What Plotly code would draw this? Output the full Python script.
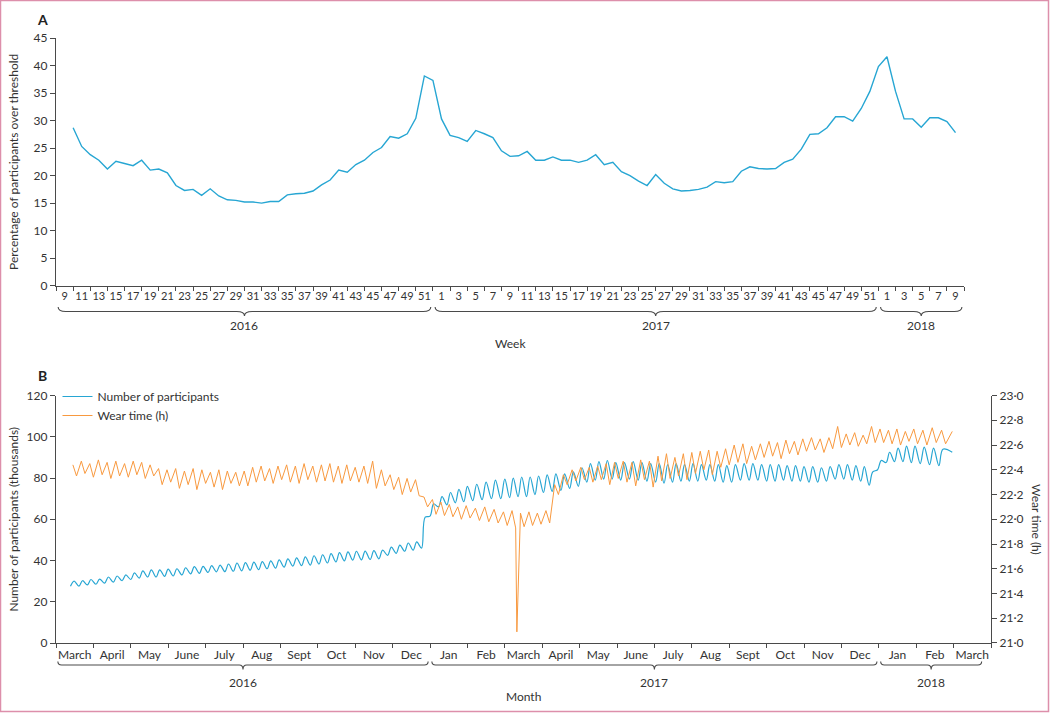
import calendar
import datetime as dt
import plotly.graph_objects as go

FONT = "Lato"
BLUE = "#27a6d3"
ORANGE = "#f8993f"
AXIS = "#4a4a4a"
TEXT = "#333333"
BORDER = "#dd8fab"

# ---------------- Panel A data (weekly % over threshold) ----------------
weeks_2016 = list(range(10, 53))
pct_2016 = [28.7, 25.3, 23.8, 22.8, 21.2, 22.6, 22.2, 21.8, 22.8, 21.0,
            21.2, 20.5, 18.2, 17.3, 17.5, 16.4, 17.6, 16.3, 15.6, 15.5,
            15.2, 15.2, 15.0, 15.3, 15.3, 16.5, 16.7, 16.8, 17.2, 18.3,
            19.2, 21.0, 20.6, 22.0, 22.8, 24.2, 25.1, 27.1, 26.8, 27.6,
            30.4, 38.1, 37.3]
weeks_2017 = list(range(1, 53))
pct_2017 = [30.3, 27.3, 26.9, 26.2, 28.2, 27.6, 26.9, 24.5, 23.5, 23.6,
            24.4, 22.8, 22.8, 23.4, 22.8, 22.8, 22.4, 22.8, 23.8, 22.0,
            22.4, 20.7, 20.0, 19.0, 18.2, 20.2, 18.6, 17.6, 17.2, 17.3,
            17.5, 17.9, 18.9, 18.7, 18.9, 20.8, 21.6, 21.3, 21.2, 21.3,
            22.4, 23.0, 24.8, 27.5, 27.6, 28.7, 30.7, 30.7, 29.9, 32.2,
            35.3, 39.8]
weeks_2018 = list(range(1, 10))
pct_2018 = [41.6, 35.3, 30.3, 30.3, 28.8, 30.5, 30.5, 29.8, 27.8]

label_weeks = {2016: list(range(9, 52, 2)), 2017: list(range(1, 52, 2)), 2018: list(range(1, 10, 2))}
year_offset = {2016: -9, 2017: 43, 2018: 95}


def week_pos(year, week):
    return week + year_offset[year]


xa = ([week_pos(2016, w) for w in weeks_2016] + [week_pos(2017, w) for w in weeks_2017]
      + [week_pos(2018, w) for w in weeks_2018])
ya = pct_2016 + pct_2017 + pct_2018

a_tickvals, a_ticktext = [], []
for yr, wks in label_weeks.items():
    for w in wks:
        a_tickvals.append(week_pos(yr, w))
        a_ticktext.append(str(w))
a_minor = [a_tickvals[0] - 1] + [v + 1 for v in a_tickvals]

# ---------------- Panel B data (daily, summarised as weekly levels) ----------------
start_date = dt.date(2016, 3, 13)   # first Sunday shown
# Number of participants (thousands): weekday level and weekend level, per week
blue_hi = [30.0, 30.2, 30.8, 31.0, 32.0, 32.5, 33.0, 34.0, 35.0, 35.5,
           35.5, 35.8, 36.0, 36.5, 37.0, 37.2, 37.5, 37.8, 38.3, 38.8,
           39.0, 39.2, 39.5, 39.8, 40.3, 40.8, 41.3, 41.8, 42.3, 42.8,
           43.3, 43.8, 44.2, 44.5, 44.6, 44.8, 45.0, 46.5, 47.5, 48.5,
           49.0, 61.0, 67.5, 71.0, 73.0, 74.5, 76.0, 77.0, 78.0, 79.0,
           79.5, 80.0, 80.5, 80.5, 81.0, 81.5, 82.0, 82.0, 83.0, 85.0,
           87.0, 88.0, 88.5, 87.5, 87.5, 88.0, 87.5, 87.0, 87.0, 86.5,
           87.0, 86.5, 87.0, 86.5, 86.5, 86.5, 86.0, 86.5, 87.0, 87.0,
           86.5, 86.5, 86.5, 86.0, 86.0, 85.5, 85.5, 85.0, 85.5, 86.5,
           86.5, 86.0, 85.5, 83.0, 88.5, 92.5, 94.5, 95.5, 95.5, 95.0,
           94.5, 94.0]
blue_lo = [27.5, 27.6, 28.2, 28.5, 29.0, 29.5, 30.2, 30.8, 31.5, 32.0,
           32.0, 32.3, 32.5, 33.0, 33.5, 33.8, 34.2, 34.5, 34.6, 34.8,
           35.0, 35.3, 35.6, 36.0, 36.3, 36.8, 37.3, 37.5, 37.8, 38.3,
           38.8, 39.3, 39.8, 40.2, 40.3, 40.5, 40.8, 42.5, 43.5, 44.5,
           45.0, 46.0, 61.5, 66.0, 67.0, 68.0, 68.5, 69.0, 69.5, 70.0,
           70.0, 70.5, 71.0, 71.0, 72.0, 73.0, 73.5, 74.0, 75.0, 76.0,
           78.0, 79.0, 79.5, 79.5, 79.0, 79.5, 79.0, 78.5, 78.0, 77.5,
           78.0, 78.5, 78.5, 78.5, 79.0, 78.5, 78.0, 78.0, 79.0, 79.0,
           79.0, 78.5, 78.5, 79.0, 78.5, 78.5, 78.0, 78.0, 78.5, 79.5,
           79.5, 79.0, 78.5, 76.5, 84.0, 87.5, 88.0, 88.0, 87.5, 87.0,
           86.5, 86.0]
blue_last = (dt.date(2018, 2, 28), 92.5)

# Wear time (h): weekly high and low
wear_hi = [22.44, 22.47, 22.45, 22.48, 22.46, 22.47, 22.45, 22.47, 22.46, 22.44,
           22.41, 22.40, 22.41, 22.39, 22.41, 22.40, 22.38, 22.40, 22.39, 22.38,
           22.39, 22.42, 22.43, 22.41, 22.43, 22.44, 22.43, 22.45, 22.43, 22.44,
           22.45, 22.43, 22.44, 22.42, 22.43, 22.47, 22.40, 22.36, 22.34, 22.33,
           22.32, 22.18, 22.16, 22.14, 22.12, 22.10, 22.11, 22.09, 22.10, 22.08,
           22.06, 22.07, 22.05, 22.06, 22.05, 22.07, 22.28, 22.36, 22.40, 22.42,
           22.42, 22.43, 22.45, 22.46, 22.47, 22.46, 22.48, 22.47, 22.51, 22.53,
           22.50, 22.53, 22.54, 22.55, 22.56, 22.55, 22.57, 22.60, 22.61, 22.59,
           22.61, 22.63, 22.62, 22.64, 22.63, 22.65, 22.66, 22.65, 22.66, 22.75,
           22.69, 22.70, 22.68, 22.75, 22.73, 22.72, 22.73, 22.71, 22.73, 22.72,
           22.74, 22.72]
wear_lo = [22.35, 22.37, 22.34, 22.36, 22.33, 22.35, 22.34, 22.36, 22.33, 22.35,
           22.28, 22.30, 22.25, 22.28, 22.24, 22.29, 22.26, 22.24, 22.29, 22.27,
           22.27, 22.30, 22.31, 22.29, 22.32, 22.30, 22.29, 22.32, 22.30, 22.31,
           22.30, 22.29, 22.31, 22.30, 22.29, 22.25, 22.27, 22.24, 22.20, 22.22,
           22.19, 22.10, 22.04, 22.03, 22.02, 22.00, 22.01, 21.99, 21.98, 21.97,
           21.95, 21.93, 21.94, 21.95, 21.96, 21.97, 22.20, 22.28, 22.31, 22.32,
           22.30, 22.32, 22.28, 22.33, 22.30, 22.27, 22.32, 22.26, 22.31, 22.33,
           22.35, 22.32, 22.37, 22.40, 22.36, 22.42, 22.44, 22.46, 22.45, 22.48,
           22.50, 22.51, 22.49, 22.53, 22.52, 22.55, 22.56, 22.54, 22.57, 22.58,
           22.60, 22.59, 22.61, 22.62, 22.62, 22.61, 22.60, 22.63, 22.61, 22.60,
           22.62, 22.61]
wear_spike = (dt.date(2017, 3, 11), 21.09)
wear_last = (dt.date(2018, 2, 28), 22.71)

month_labels = ["March", "April", "May", "June", "July", "Aug", "Sept", "Oct", "Nov", "Dec",
                "Jan", "Feb", "March", "April", "May", "June", "July", "Aug", "Sept", "Oct",
                "Nov", "Dec", "Jan", "Feb", "March"]
years_b = [(2016, 0, 10), (2017, 10, 22), (2018, 22, 25)]


def month_pos(d):
    """Position on the month axis (each month drawn with equal width)."""
    ndays = calendar.monthrange(d.year, d.month)[1]
    return (d.year - 2016) * 12 + (d.month - 3) + (d.day - 1) / ndays


def day(k, offset):
    return start_date + dt.timedelta(days=7 * k + offset)


bx, by = [], []
for k, (lo, hi) in enumerate(zip(blue_lo, blue_hi)):
    # weekend dip on Sunday, weekday peak mid-week
    for off, val in ((0, lo), (3, hi)):
        bx.append(month_pos(day(k, off)))
        by.append(val)
bx.append(month_pos(blue_last[0]))
by.append(blue_last[1])

wpts = []
for k, (hi, lo) in enumerate(zip(wear_hi, wear_lo)):
    wpts.append((day(k, 2), hi))
    wpts.append((day(k, 5), lo))
wpts.append(wear_spike)
wpts.append(wear_last)
wpts.sort(key=lambda p: p[0])
wx = [month_pos(d) for d, _ in wpts]
wy = [v for _, v in wpts]

# ---------------- Figure ----------------
fig = go.Figure()
fig.add_trace(go.Scatter(x=xa, y=ya, mode="lines", line=dict(color=BLUE, width=1.4),
                         showlegend=False, xaxis="x", yaxis="y", hoverinfo="skip"))
fig.add_trace(go.Scatter(x=bx, y=by, mode="lines", name="Number of participants",
                         line=dict(color=BLUE, width=1.2, shape="spline", smoothing=1.0),
                         xaxis="x2", yaxis="y2"))
fig.add_trace(go.Scatter(x=wx, y=wy, mode="lines", name="Wear time (h)",
                         line=dict(color=ORANGE, width=1.0),
                         xaxis="x2", yaxis="y3"))

axis_common = dict(showline=True, linecolor=AXIS, linewidth=1.3, showgrid=False, zeroline=False,
                   tickcolor=AXIS, tickwidth=1.2, tickfont=dict(size=12, color=TEXT),
                   automargin=False)

fig.update_layout(
    width=1050, height=713,
    margin=dict(l=56, r=59, t=38, b=70),
    paper_bgcolor="white", plot_bgcolor="white",
    font=dict(family=FONT, size=12, color=TEXT),
    xaxis=dict(**{**axis_common, "tickfont": dict(size=11, color=TEXT)},
               domain=[0, 0.9712], range=[-1, 105], anchor="y",
               tickmode="array", tickvals=a_tickvals, ticktext=a_ticktext,
               ticks="outside", ticklen=0,
               minor=dict(tickmode="array", tickvals=a_minor, ticks="outside", ticklen=4,
                          tickcolor=AXIS, tickwidth=1.2)),
    yaxis=dict(**axis_common, domain=[0.5906, 1.0], range=[0, 45], dtick=5, anchor="x",
               ticks="outside", ticklen=5,
               title=dict(text="Percentage of participants over threshold", standoff=12,
                          font=dict(size=12, color=TEXT))),
    xaxis2=dict(**axis_common, domain=[0, 1], range=[0, 25], anchor="y2",
                tickmode="array", tickvals=[m + 0.5 for m in range(25)], ticktext=month_labels,
                ticks="outside", ticklen=0,
                minor=dict(tickmode="array", tickvals=list(range(26)), ticks="outside", ticklen=4,
                           tickcolor=AXIS, tickwidth=1.2)),
    yaxis2=dict(**axis_common, domain=[0, 0.409], range=[0, 120], dtick=20, anchor="x2",
                ticks="outside", ticklen=5,
                title=dict(text="Number of participants (thousands)", standoff=5,
                           font=dict(size=12, color=TEXT))),
    yaxis3=dict(**axis_common, overlaying="y2", side="right", anchor="x2", range=[21, 23],
                tickmode="array", tickvals=[21 + 0.2 * i for i in range(11)],
                ticktext=[f"{21 + 0.2 * i:.1f}".replace(".", "·") for i in range(11)],
                ticks="outside", ticklen=5),
    legend=dict(x=0.0016, y=(643 - 382) / 605, xanchor="left", yanchor="top",
                bgcolor="rgba(0,0,0,0)", font=dict(size=12, color=TEXT),
                tracegroupgap=0, itemwidth=30),
)


def py(px):
    return (643 - px) / 605


def brace(x0, x1, xc, xref, ytop, ymid, ytip, r):
    return dict(type="path", xref=xref, yref="paper",
                path=(f"M {x0},{ytop} Q {x0},{ymid} {x0 + r},{ymid} L {xc - r},{ymid} "
                      f"Q {xc},{ymid} {xc},{ytip} Q {xc},{ymid} {xc + r},{ymid} "
                      f"L {x1 - r},{ymid} Q {x1},{ymid} {x1},{ytop}"),
                line=dict(color=AXIS, width=1.1))


def text_note(x, y, xref, text, size=12, angle=0, color=TEXT):
    return dict(x=x, y=y, xref=xref, yref="paper", text=text, showarrow=False,
                xanchor="center", yanchor="middle", textangle=angle,
                font=dict(size=size, color=color))


shapes = []
annotations = []
# Panel A braces (year spans in week positions)
years_a = [(2016, week_pos(2016, 8), week_pos(2016, 52)),
           (2017, week_pos(2017, 0), week_pos(2017, 52)),
           (2018, week_pos(2018, 0), week_pos(2018, 10))]
for yr, s, e in years_a:
    c = (s + e) / 2
    shapes.append(brace(s + 0.25, e - 0.25, c, "x", py(307), py(311.5), py(316), 0.9))
    annotations.append(text_note(c, py(325), "x", str(yr)))
annotations.append(text_note(52, py(343), "x", "Week"))
# Panel B braces
for yr, s, e in years_b:
    e2 = e if yr != 2018 else e - 0.2
    c = (s + e2) / 2
    shapes.append(brace(s + 0.05, e2 - 0.05, c, "x2", py(661.5), py(665), py(669.5), 0.1))
    annotations.append(text_note(c, py(682), "x2", str(yr)))
annotations.append(text_note(12.5, py(696), "x2", "Month"))
# Right axis title
annotations.append(text_note((1037 - 56) / 935, py(519), "paper", "Wear time (h)", angle=90))
# Panel letters
annotations.append(text_note((42 - 56) / 935, py(19), "paper", "<b>A</b>", size=14, color="#222222"))
annotations.append(text_note((42 - 56) / 935, py(375), "paper", "<b>B</b>", size=14, color="#222222"))
# Figure border
shapes.append(dict(type="rect", xref="paper", yref="paper",
                   x0=(0.5 - 56) / 935, x1=(1048.5 - 56) / 935, y0=py(711.5), y1=py(0.5),
                   line=dict(color=BORDER, width=1.5), fillcolor="rgba(0,0,0,0)", layer="below"))

fig.update_layout(shapes=shapes, annotations=annotations)
fig.write_html("out.html", config={"displayModeBar": False},
               post_script="document.body.style.margin='0px';document.body.style.padding='0px';")
